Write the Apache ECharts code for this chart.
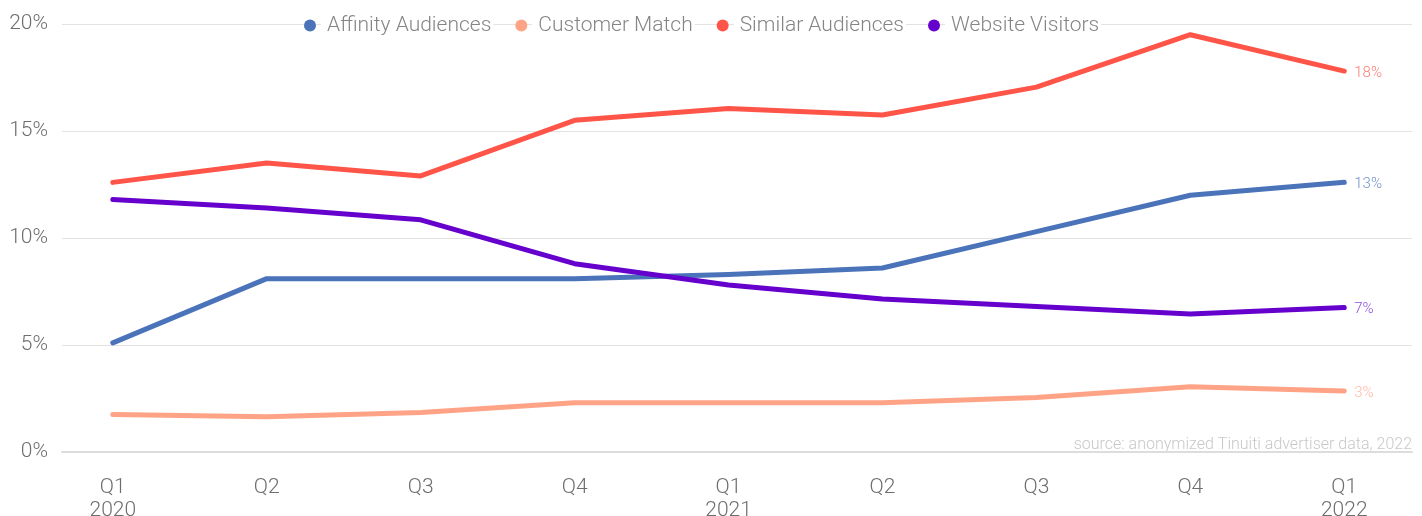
<!DOCTYPE html>
<html>
<head>
<meta charset="utf-8">
<script src="https://cdn.jsdelivr.net/npm/echarts@6/dist/echarts.min.js"></script>
<style>
  html, body { margin: 0; padding: 0; background: #fff; }
  #chart { width: 1422px; height: 516px; }
</style>
</head>
<body>
<div id="chart"></div>
<script>
// Quarter labels (quarter on first line, year where a new year begins)
const quarters = ['Q1\n2020', 'Q2', 'Q3', 'Q4', 'Q1\n2021', 'Q2', 'Q3', 'Q4', 'Q1\n2022'];

// Share of conversions per audience type, in percent
const affinityAudiences = [5.1, 8.1, 8.1, 8.1, 8.3, 8.6, 10.3, 12.0, 12.6];
const customerMatch     = [1.75, 1.65, 1.85, 2.3, 2.3, 2.3, 2.55, 3.05, 2.85];
const similarAudiences  = [12.6, 13.5, 12.9, 15.5, 16.05, 15.75, 17.05, 19.5, 17.8];
const websiteVisitors   = [11.8, 11.4, 10.85, 8.8, 7.8, 7.15, 6.8, 6.45, 6.75];

const yTicks = [0, 5, 10, 15, 20];

const seriesDefs = [
  { name: 'Affinity Audiences', data: affinityAudiences, color: '#4a73b9', label: '#6f8fca' },
  { name: 'Customer Match',     data: customerMatch,     color: '#ffa386', label: '#ffb8a2' },
  { name: 'Similar Audiences',  data: similarAudiences,  color: '#ff5448', label: '#ff7d72' },
  { name: 'Website Visitors',   data: websiteVisitors,   color: '#6600cc', label: '#8c4fdb' }
];

const FONT = 'Roboto, "Noto Sans", sans-serif';
const chart = echarts.init(document.getElementById('chart'), null, { renderer: 'canvas' });

chart.setOption({
  animation: false,
  textStyle: { fontFamily: FONT },
  legend: {
    top: 10,
    left: 299,
    itemGap: 22,
    itemWidth: 12,
    itemHeight: 12,
    icon: 'circle',
    textStyle: {
      fontSize: 21,
      color: '#858585',
      fontWeight: 300,
      fontFamily: FONT,
      backgroundColor: '#ffffff',
      padding: [0, 2, 0, 6]
    },
    data: seriesDefs.map(s => s.name)
  },
  grid: {
    left: 62, right: 10, top: 24, bottom: 64,
    containLabel: false,
    outerBoundsMode: 'none'
  },
  xAxis: {
    type: 'value',
    min: -0.33,
    max: 8.44,
    splitLine: { show: false },
    axisLine: { show: true, lineStyle: { color: '#dddddd', width: 2 } },
    axisTick: { show: false },
    axisLabel: {
      customValues: quarters.map((q, i) => i),
      formatter: v => quarters[Math.round(v)],
      color: '#6e6e6e',
      fontSize: 21,
      fontWeight: 300,
      lineHeight: 23,
      margin: 24,
      fontFamily: FONT
    }
  },
  yAxis: {
    type: 'value',
    min: 0,
    max: 20,
    interval: 5,
    axisLine: { show: false },
    axisTick: { show: false },
    splitLine: { lineStyle: { color: '#e2e2e2', width: 1 } },
    axisLabel: {
      formatter: v => yTicks.includes(v) ? v + '%' : '',
      color: '#6e6e6e',
      fontSize: 21,
      fontWeight: 300,
      margin: 14,
      fontFamily: FONT
    }
  },
  graphic: [{
    type: 'text',
    right: 10,
    top: 437,
    style: {
      text: 'source: anonymized Tinuiti advertiser data, 2022',
      fill: '#c8c8c8',
      fontSize: 16,
      fontWeight: 300,
      fontFamily: FONT
    }
  }],
  series: seriesDefs.map(s => ({
    name: s.name,
    type: 'line',
    data: s.data.map((v, i) => [i, v]),
    color: s.color,
    showSymbol: false,
    symbol: 'circle',
    lineStyle: { width: 5, color: s.color, cap: 'round', join: 'round' },
    itemStyle: { color: s.color },
    endLabel: {
      show: true,
      formatter: p => Math.round(p.value[1]) + '%',
      color: s.label,
      fontSize: 15,
      fontWeight: 300,
      distance: 10,
      offset: [0, 2],
      fontFamily: FONT
    },
    emphasis: { disabled: true }
  }))
});
</script>
</body>
</html>
